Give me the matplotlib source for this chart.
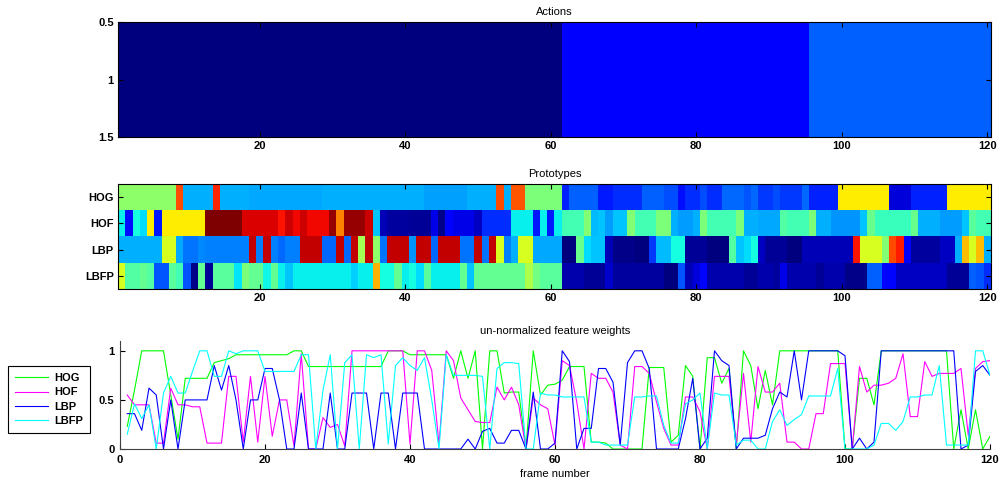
import numpy as np
import matplotlib
matplotlib.use("Agg")
import matplotlib.pyplot as plt

plt.rcParams['font.family'] = ['Liberation Sans', 'DejaVu Sans']

# ---------------- data ----------------
frames = list(range(1, 121))

actions = [1]*61 + [2]*34 + [3]*25

proto_labels = ['HOG', 'HOF', 'LBP', 'LBFP']

proto_hog = ([0.52]*8 + [0.83] + [0.30]*4 + [0.87] + [0.30]*4 + [0.29]*10 + [0.30]*14 +
             [0.285]*6 + [0.30]*4 + [0.83] + [0.30] + [0.82]*2 + [0.50]*5 +
             [0.16] + [0.22]*4 + [0.15]*2 + [0.17]*4 + [0.22]*3 + [0.20]*2 + [0.14] + [0.17]*2 +
             [0.20] + [0.17]*2 + [0.23]*3 + [0.21] + [0.23] + [0.18]*2 + [0.20] + [0.18]*3 +
             [0.23] + [0.16]*4 + [0.66]*7 + [0.08]*3 + [0.16]*5 + [0.66]*6)

proto_hof = ([0.36, 0.14, 0.375, 0.34, 0.66, 0.15] + [0.66]*6 + [1.0]*5 + [0.92]*5 +
             [0.89, 0.93, 0.90, 0.93] + [0.90]*3 + [0.98, 0.77] + [0.98]*3 + [0.93, 0.32, 0.05] +
             [0.03]*3 + [0.02]*3 + [0.09, 0.01, 0.12] + [0.09]*3 + [0.06] + [0.17]*4 +
             [0.36]*3 + [0.15, 0.36, 0.15, 0.36] +
             [0.43]*3 + [0.51, 0.31, 0.32, 0.28] + [0.32]*2 + [0.51] + [0.43]*3 + [0.50]*2 +
             [0.30] + [0.28]*2 + [0.30] +
             [0.50] + [0.43]*4 + [0.50] + [0.30]*2 + [0.29]*3 + [0.45] + [0.43]*3 + [0.50] +
             [0.30]*2 + [0.27]*4 + [0.32, 0.48] + [0.42]*5 + [0.48] + [0.30]*3 + [0.28]*3 +
             [0.32, 0.46] + [0.43]*2)

proto_lbp = ([0.30]*6 + [0.61]*2 + [0.29] + [0.24]*2 + [0.26] + [0.25]*6 +
             [0.94, 0.25, 0.94, 0.25, 0.23] + [0.25]*2 + [0.94]*3 + [0.23]*2 +
             [0.94, 0.23, 0.94, 0.55, 0.94, 0.52, 0.24] + [0.94]*3 +
             [0.27] + [0.94]*2 + [0.23] + [0.94]*3 + [0.24]*2 + [0.94, 0.24, 0.94, 0.61, 0.25, 0.30] +
             [0.61]*2 + [0.29]*4 +
             [0.0]*2 + [0.48, 0.34] + [0.32]*2 + [0.05] + [0.01]*3 + [0.0]*2 + [0.18] +
             [0.31]*2 + [0.375]*2 + [0.02]*2 +
             [0.02] + [0.0]*3 + [0.45, 0.32, 0.34, 0.375, 0.06] + [0.02]*3 + [0.0]*2 +
             [0.05]*7 + [0.89] + [0.61]*3 + [0.51, 0.83, 0.88, 0.125] + [0.03]*4 +
             [0.06]*2 + [0.30, 0.71, 0.61, 0.71, 0.30])

proto_lbfp = ([0.61] + [0.45]*2 + [0.47, 0.45] + [0.21]*2 + [0.46, 0.43, 0.21, 0.01, 0.47, 0.02] +
              [0.46]*3 + [0.35, 0.50] + [0.47]*2 + [0.37, 0.47, 0.36, 0.32] + [0.36]*8 +
              [0.33] + [0.36]*2 + [0.72] + [0.375]*2 + [0.47, 0.36] +
              [0.375, 0.34, 0.46] + [0.36]*4 + [0.47, 0.32] + [0.47]*7 + [0.56, 0.49] +
              [0.46]*3 +
              [0.04]*3 + [0.02]*3 + [0.07] + [0.03]*7 + [0.0]*2 + [0.21, 0.05, 0.08] +
              [0.13] + [0.04]*5 + [0.02]*2 + [0.04]*2 + [0.03, 0.09] + [0.04]*4 + [0.02] +
              [0.04]*3 + [0.01]*3 + [0.22]*2 + [0.13]*2 + [0.06]*7 + [0.02]*3 +
              [0.22, 0.21, 0.17])

w_hog = [0.23, 0.60, 1.0, 1.0, 1.0, 1.0, 0.55, 0.10, 0.72, 0.72,
         0.72, 0.72, 0.88, 0.90, 0.92, 0.96, 0.96, 0.96, 0.96, 0.96,
         0.96, 0.96, 0.96, 1.0, 1.0, 0.84, 0.84, 0.84, 0.84, 0.84,
         0.84, 0.84, 0.84, 0.84, 0.84, 0.84, 1.0, 1.0, 1.0, 0.96,
         0.96, 0.96, 0.96, 0.96, 0.96, 0.72, 1.0, 0.72, 1.0, 0.0,
         1.0, 1.0, 0.57, 0.58, 0.58, 0.0, 1.0, 0.55, 0.65, 0.66,
         0.70, 0.84, 0.84, 0.84, 0.07, 0.07, 0.06, 0.0, 0.0, 0.0,
         0.0, 0.0, 0.83, 0.83, 0.83, 0.07, 0.14, 0.85, 0.74, 0.0,
         0.93, 0.93, 0.67, 0.82, 0.0, 1.0, 0.85, 0.41, 0.80, 0.45,
         1.0, 1.0, 1.0, 1.0, 1.0, 1.0, 1.0, 1.0, 1.0, 0.0,
         0.0, 0.72, 0.72, 0.45, 1.0, 1.0, 1.0, 1.0, 1.0, 1.0,
         1.0, 1.0, 1.0, 1.0, 0.0, 0.40, 0.0, 0.40, 0.0, 0.13]

w_hof = [0.55, 0.45, 0.45, 0.45, 0.06, 0.06, 0.62, 0.45, 0.45, 0.43,
         0.43, 0.06, 0.06, 0.06, 0.74, 0.74, 0.07, 0.74, 0.07, 0.74,
         0.13, 0.50, 0.50, 0.03, 0.97, 0.0, 0.0, 0.32, 0.22, 0.25,
         0.03, 1.0, 1.0, 1.0, 1.0, 1.0, 1.0, 1.0, 1.0, 0.05,
         1.0, 1.0, 0.80, 0.05, 1.0, 0.90, 0.52, 0.40, 0.28, 0.27,
         0.27, 0.63, 0.50, 0.63, 0.45, 0.0, 0.52, 0.45, 0.41, 0.04,
         0.90, 0.85, 0.48, 0.0, 0.77, 0.72, 0.72, 0.58, 0.04, 0.0,
         0.84, 0.84, 0.77, 0.48, 0.21, 0.04, 0.04, 0.53, 0.53, 0.38,
         0.0, 0.74, 0.74, 0.74, 0.04, 0.77, 0.07, 0.84, 0.58, 0.58,
         0.67, 0.07, 0.07, 0.0, 0.0, 0.36, 0.36, 0.87, 0.87, 0.87,
         0.0, 0.84, 0.58, 0.65, 0.65, 0.67, 0.72, 0.97, 0.33, 0.33,
         0.89, 0.74, 0.77, 0.77, 0.77, 0.82, 0.14, 0.82, 0.89, 0.90]

w_lbp = [0.36, 0.36, 0.19, 0.62, 0.55, 0.0, 0.50, 0.0, 0.50, 0.50,
         0.50, 0.50, 0.85, 0.60, 0.85, 0.50, 0.0, 0.50, 0.50, 0.82,
         0.82, 0.50, 0.0, 0.0, 0.57, 0.0, 0.0, 0.0, 0.57, 0.0,
         0.0, 0.57, 0.57, 0.57, 0.0, 0.57, 0.57, 0.0, 0.57, 0.57,
         0.57, 0.0, 0.0, 0.0, 0.0, 0.0, 0.0, 0.10, 0.0, 0.18,
         0.21, 0.06, 0.06, 0.19, 0.19, 0.0, 0.58, 0.0, 0.0, 0.06,
         1.0, 0.89, 0.0, 0.21, 0.21, 0.82, 0.82, 0.68, 0.04, 0.88,
         1.0, 1.0, 0.82, 0.0, 0.0, 0.0, 0.0, 0.31, 0.72, 0.0,
         0.11, 1.0, 0.90, 0.85, 0.0, 0.11, 0.11, 0.11, 0.14, 0.41,
         0.58, 0.53, 1.0, 0.50, 1.0, 1.0, 1.0, 1.0, 1.0, 0.95,
         0.0, 0.11, 0.0, 0.07, 1.0, 1.0, 1.0, 1.0, 1.0, 1.0,
         1.0, 1.0, 1.0, 1.0, 1.0, 0.0, 0.04, 0.79, 0.85, 0.75]

w_lbfp = [0.15, 0.46, 0.31, 0.45, 0.0, 0.57, 0.74, 0.57, 0.57, 0.79,
          1.0, 1.0, 0.74, 0.74, 1.0, 0.97, 1.0, 1.0, 1.0, 0.79,
          0.79, 0.79, 0.79, 0.79, 0.96, 0.96, 0.0, 0.60, 0.96, 0.0,
          0.88, 0.96, 0.0, 0.96, 0.93, 0.96, 0.05, 0.85, 0.93, 0.85,
          0.80, 0.93, 0.50, 0.0, 0.96, 0.75, 0.75, 0.75, 0.75, 0.74,
          0.0, 0.82, 0.88, 0.88, 0.87, 0.0, 0.0, 0.57, 0.55, 0.55,
          0.53, 0.53, 0.53, 0.53, 0.07, 0.07, 0.04, 0.04, 0.04, 0.04,
          0.53, 0.53, 0.54, 0.54, 0.24, 0.06, 0.06, 0.46, 0.50, 0.57,
          0.0, 0.57, 0.55, 0.55, 0.04, 0.09, 0.09, 0.0, 0.0, 0.28,
          0.40, 0.24, 0.30, 0.35, 0.54, 0.54, 0.54, 0.54, 0.82, 0.0,
          0.0, 0.0, 0.0, 0.04, 0.26, 0.26, 0.19, 0.28, 0.53, 0.53,
          0.55, 0.55, 0.85, 0.04, 0.04, 0.04, 0.04, 1.0, 1.0, 0.75]

line_colors = ['#00ff00', '#ff00ff', '#0000ff', '#00ffff']

# ---------------- figure ----------------
fig = plt.figure(figsize=(10, 4.84), dpi=100)

tick_fs = 8
title_fs = 8

def style(ax):
    ax.tick_params(direction='in', length=3.5, width=0.8, top=True, right=True,
                   labelsize=tick_fs, pad=3)
    for lab in ax.get_xticklabels() + ax.get_yticklabels():
        lab.set_fontweight('bold')
    for s in ax.spines.values():
        s.set_linewidth(0.8)

W = 1000.0
H = 484.0
def rect(x0, y0, x1, y1):
    return [x0 / W, 1 - y1 / H, (x1 - x0) / W, (y1 - y0) / H]

# Actions
ax1 = fig.add_axes(rect(118, 22, 991, 137))
ax1.imshow(np.array([actions]), aspect='auto', cmap='jet', vmin=1, vmax=10,
           extent=(0.5, 120.5, 1.5, 0.5), interpolation='nearest')
ax1.set_xlim(0.5, 120.5)
ax1.set_ylim(1.5, 0.5)
ax1.set_xticks([20, 40, 60, 80, 100, 120])
ax1.set_yticks([0.5, 1, 1.5])
ax1.set_yticklabels(['0.5', '1', '1.5'])
ax1.set_title('Actions', fontsize=title_fs, pad=5)
style(ax1)

# Prototypes
ax2 = fig.add_axes(rect(118, 184, 991, 289))
proto = np.array([proto_hog, proto_hof, proto_lbp, proto_lbfp])
ax2.imshow(proto, aspect='auto', cmap='jet', vmin=0, vmax=1,
           extent=(0.5, 120.5, 4.5, 0.5), interpolation='nearest')
ax2.set_xlim(0.5, 120.5)
ax2.set_ylim(4.5, 0.5)
ax2.set_xticks([20, 40, 60, 80, 100, 120])
ax2.set_yticks([1, 2, 3, 4])
ax2.set_yticklabels(proto_labels)
ax2.set_title('Prototypes', fontsize=title_fs, pad=5)
style(ax2)

# Feature weights
ax3 = fig.add_axes(rect(120, 341, 990, 449))
series = [w_hog, w_hof, w_lbp, w_lbfp]
handles = []
for vals, c, lab in zip(series, line_colors, proto_labels):
    h, = ax3.plot(frames, vals, color=c, lw=0.8, label=lab)
    handles.append(h)
ax3.set_xlim(0, 120)
ax3.set_ylim(0, 1.1)
ax3.set_xticks([0, 20, 40, 60, 80, 100, 120])
ax3.set_yticks([0, 0.5, 1])
ax3.set_yticklabels(['0', '0.5', '1'])
ax3.set_title('un-normalized feature weights', fontsize=title_fs, pad=5)
ax3.set_xlabel('frame number', fontsize=title_fs, labelpad=3)
ax3.spines['top'].set_visible(False)
ax3.spines['right'].set_visible(False)
style(ax3)
ax3.tick_params(top=False, right=False, pad=4)
ax3.spines['left'].set_color('#404040')
ax3.spines['bottom'].set_color('#404040')

leg = fig.legend(handles=handles, labels=proto_labels, loc='lower left',
                 bbox_to_anchor=(8 / W, 1 - 433 / H), bbox_transform=fig.transFigure,
                 fancybox=False, framealpha=1, edgecolor='black',
                 prop={'size': 8, 'weight': 'bold'}, handlelength=3.0,
                 borderpad=0.6, labelspacing=0.4, handletextpad=0.6, borderaxespad=0)
leg.get_frame().set_linewidth(0.8)

fig.savefig('out.png', dpi=100)
